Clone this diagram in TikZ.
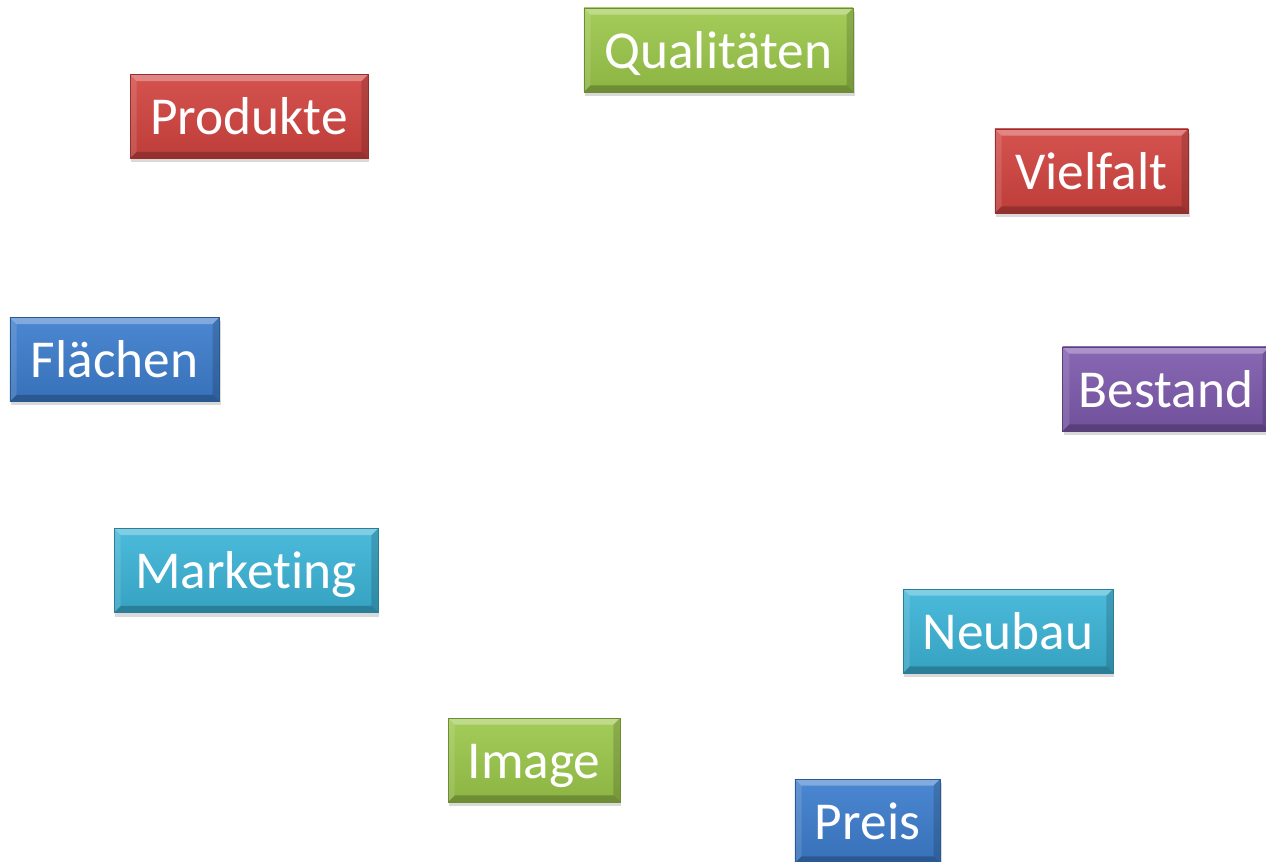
\documentclass[tikz,border=0pt]{standalone}
\usepackage{fontspec}
\setmainfont[Ligatures=NoCommon]{Carlito}
\usetikzlibrary{shadows}

\definecolor{greenbox}{RGB}{156,200,75}
\definecolor{redbox}{RGB}{210,68,64}
\definecolor{bluebox}{RGB}{60,125,205}
\definecolor{purplebox}{RGB}{126,90,173}
\definecolor{cyanbox}{RGB}{60,180,215}

\tikzset{
  bevelbox/.style={draw=#1!70!black, line width=0.5pt,
    top color=#1!92!white, bottom color=#1!90!black,
    text=white, font=\fontsize{40}{41}\selectfont,
    inner sep=0pt, minimum height=63pt, text height=35pt, text depth=7.5pt,
    drop shadow={opacity=0.3, shadow xshift=1pt, shadow yshift=-3pt},
    path picture={
      \fill[white,opacity=0.3] (path picture bounding box.north west) -- (path picture bounding box.north east)
        -- ([xshift=-5pt,yshift=-5pt]path picture bounding box.north east) -- ([xshift=5pt,yshift=-5pt]path picture bounding box.north west) -- cycle;
      \fill[black,opacity=0.22] (path picture bounding box.south west) -- (path picture bounding box.south east)
        -- ([xshift=-5pt,yshift=5pt]path picture bounding box.south east) -- ([xshift=5pt,yshift=5pt]path picture bounding box.south west) -- cycle;
      \fill[white,opacity=0.12] (path picture bounding box.north west) -- ([xshift=5pt,yshift=-5pt]path picture bounding box.north west)
        -- ([xshift=5pt,yshift=5pt]path picture bounding box.south west) -- (path picture bounding box.south west) -- cycle;
      \fill[black,opacity=0.15] (path picture bounding box.north east) -- ([xshift=-5pt,yshift=-5pt]path picture bounding box.north east)
        -- ([xshift=-5pt,yshift=5pt]path picture bounding box.south east) -- (path picture bounding box.south east) -- cycle;
    }}
}

\begin{document}
\begin{tikzpicture}[x=0.75pt,y=0.75pt,yscale=-1,xscale=1]
\useasboundingbox (0,0) rectangle (1266,862);

% Text Node
\draw (718.5,50) node [bevelbox=greenbox, minimum width=202pt] (qual) {Qualitäten};
% Text Node
\draw (249,116.5) node [bevelbox=redbox, minimum width=178.5pt] (prod) {Produkte};
% Text Node
\draw (1091.5,171) node [bevelbox=redbox, minimum width=145pt] (viel) {Vielfalt};
% Text Node
\draw (114.5,359.5) node [bevelbox=bluebox, minimum width=157pt] (flae) {Flächen};
% Text Node
\draw (1166,389) node [bevelbox=purplebox, minimum width=155pt] (best) {Bestand};
% Text Node
\draw (246,570.5) node [bevelbox=cyanbox, minimum width=198pt] (mark) {Marketing};
% Text Node
\draw (1008,631) node [bevelbox=cyanbox, minimum width=157.5pt] (neu) {Neubau};
% Text Node
\draw (534,760) node [bevelbox=greenbox, minimum width=129pt] (img) {Image};
% Text Node
\draw (867.5,821) node [bevelbox=bluebox, minimum width=109pt] (preis) {Preis};

\end{tikzpicture}
\end{document}
